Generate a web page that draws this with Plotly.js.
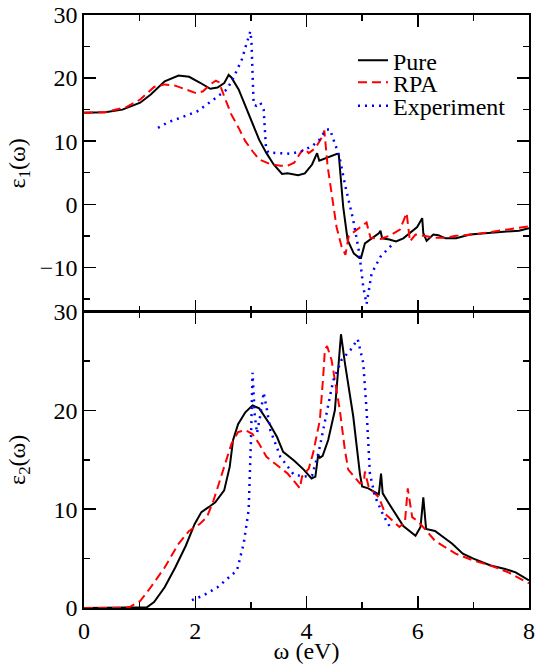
<!DOCTYPE html>
<html>
<head>
<meta charset="utf-8">
<script src="https://cdn.plot.ly/plotly-3.0.1.min.js"></script>
<style>html,body{margin:0;padding:0;background:#fff;}#chart{width:549px;height:664px;}</style>
</head>
<body>
<div id="chart"></div>
<script>
// ---- data: real part eps1 (top panel) ----
var pureE1X = [0,0.38,0.69,1.01,1.20,1.45,1.70,1.89,2.08,2.27,2.40,2.52,2.60,2.65,2.78,2.90,3.03,3.15,3.28,3.41,3.56,3.66,3.85,3.97,4.10,4.16,4.19,4.23,4.35,4.45,4.55,4.58,4.60,4.66,4.74,4.85,4.95,4.98,5.05,5.17,5.30,5.33,5.36,5.49,5.61,5.74,5.86,5.99,6.08,6.10,6.16,6.28,6.37,6.50,6.69,6.94,7.32,7.70,7.82,8.00];
var pureE1Y = [14.5,14.6,15.0,16.1,17.4,19.5,20.4,20.2,19.3,18.3,18.5,19.2,20.5,20.1,18.2,15.6,12.9,10.2,8.1,6.3,4.8,4.9,4.6,4.9,6.3,7.6,8.1,6.9,7.3,7.6,8.0,7.9,6.0,-0.4,-5.7,-7.8,-8.5,-8.5,-6.2,-5.4,-4.6,-4.2,-5.4,-5.6,-5.9,-5.4,-4.6,-3.6,-2.2,-4.6,-5.8,-4.8,-4.9,-5.4,-5.4,-4.8,-4.5,-4.2,-4.2,-3.8];
var rpaE1X = [0,0.38,0.76,1.01,1.26,1.45,1.64,1.83,2.02,2.14,2.27,2.37,2.43,2.52,2.65,2.78,2.90,3.03,3.15,3.34,3.53,3.66,3.78,3.91,3.97,4.04,4.16,4.29,4.32,4.38,4.45,4.54,4.63,4.70,4.76,4.92,5.08,5.15,5.33,5.49,5.68,5.80,5.86,5.96,6.12,6.31,6.50,6.69,7.00,7.32,7.70,8.00];
var rpaE1Y = [14.5,14.6,15.4,16.6,18.6,19.0,18.8,18.2,17.6,17.9,19.0,19.6,19.3,17.1,14.2,12.1,10.0,8.4,7.1,6.4,6.1,6.1,6.6,8.4,8.8,8.1,8.9,10.8,11.7,6.0,1.8,-3.6,-6.7,-8.0,-5.0,-4.0,-2.9,-5.3,-5.5,-5.0,-4.0,-1.4,-5.9,-4.8,-5.0,-5.3,-5.3,-5.0,-4.8,-4.4,-3.9,-3.5];
var expE1X = [1.33,1.51,1.73,2.03,2.33,2.57,2.69,2.84,2.91,2.99,3.01,3.03,3.05,3.10,3.17,3.23,3.27,3.31,3.47,3.72,3.91,4.10,4.23,4.35,4.42,4.51,4.59,4.70,4.84,4.95,5.02,5.08,5.17,5.33,5.53];
var expE1Y = [12.1,13.0,13.7,14.7,16.6,18.2,20.1,23.0,25.1,27.4,25.9,21.5,15.8,15.6,16.1,15.0,9.2,8.2,8.1,8.0,8.4,9.2,10.2,11.8,11.9,9.5,7.6,2.8,-2.5,-7.8,-13.1,-15.8,-11.0,-8.3,-6.5];

// ---- data: imaginary part eps2 (bottom panel) ----
var pureE2X = [0,1.00,1.13,1.26,1.45,1.64,1.83,1.99,2.11,2.24,2.36,2.52,2.62,2.68,2.77,2.90,3.03,3.15,3.34,3.47,3.58,3.78,3.95,4.09,4.16,4.21,4.24,4.29,4.39,4.51,4.57,4.62,4.69,4.84,4.96,5.00,5.11,5.30,5.34,5.37,5.49,5.74,5.96,6.05,6.10,6.15,6.31,6.43,6.62,6.81,7.00,7.31,7.57,7.76,8.00];
var pureE2Y = [0,0,0.07,0.6,2.1,4.1,6.3,8.5,9.7,10.2,10.7,11.9,14.3,17.0,18.6,19.8,20.5,20.2,18.6,17.3,15.8,14.9,14.0,13.1,13.3,15.5,15.2,15.4,17.0,20.0,24.5,27.7,24.8,19.4,13.6,12.3,12.1,11.5,13.6,11.6,10.5,8.3,7.3,8.2,11.2,8.0,7.8,7.3,6.5,5.5,5.0,4.3,3.95,3.6,2.8];
var rpaE2X = [0,0.70,0.82,1.01,1.20,1.45,1.70,1.89,2.08,2.21,2.33,2.52,2.65,2.77,2.90,3.03,3.15,3.28,3.47,3.66,3.81,3.88,3.92,4.04,4.12,4.24,4.30,4.33,4.37,4.45,4.60,4.69,4.75,4.96,5.03,5.05,5.12,5.30,5.42,5.67,5.77,5.82,5.90,6.02,6.31,6.68,7.00,7.31,7.63,8.00];
var rpaE2Y = [0,0,0.1,0.7,2.1,4.1,6.5,7.8,8.5,9.2,10.9,14.3,16.6,17.8,18.0,17.6,16.6,15.3,14.4,13.6,12.6,12.1,13.3,14.1,15.7,19.0,23.4,26.1,26.5,25.1,20.0,16.0,14.0,12.6,12.7,13.8,12.2,11.2,9.5,8.2,8.7,12.1,9.2,8.7,6.8,5.5,4.8,4.3,3.6,2.5];
var expE2X = [1.94,2.14,2.40,2.59,2.75,2.87,2.96,3.00,3.03,3.07,3.11,3.17,3.23,3.29,3.35,3.53,3.77,3.95,4.10,4.22,4.35,4.48,4.63,4.79,4.92,5.02,5.08,5.11,5.14,5.23,5.38,5.50];
var expE2Y = [0.8,1.25,2.1,3.0,3.8,6.5,9.9,16.7,23.8,19.5,17.7,19.5,21.8,20.0,18.0,15.3,13.5,13.3,13.4,15.8,19.3,23.0,25.1,26.1,27.2,24.8,20.0,16.0,13.6,11.3,9.4,8.2];

var seriesNames = ['Pure', 'RPA', 'Experiment'];
var tickVals = [0, 2, 4, 6, 8];

var FONT = 'Liberation Serif';
var FS = 24;
var styles = [
  {color: '#000000', width: 2, dash: 'solid'},
  {color: '#ff0000', width: 2, dash: '9px,5px'},
  {color: '#0000ff', width: 2.5, dash: '2px,5px'}
];
var legendIds = ['legend', 'legend2', 'legend3'];

var topSets = [[pureE1X, pureE1Y], [rpaE1X, rpaE1Y], [expE1X, expE1Y]];
var botSets = [[pureE2X, pureE2Y], [rpaE2X, rpaE2Y], [expE2X, expE2Y]];

var traces = [];
for (var i = 0; i < 3; i++) {
  traces.push({x: topSets[i][0], y: topSets[i][1], xaxis: 'x2', yaxis: 'y2', type: 'scatter', mode: 'lines',
    name: seriesNames[i], legend: legendIds[i], showlegend: true, line: styles[i], hoverinfo: 'skip'});
}
for (var j = 0; j < 3; j++) {
  traces.push({x: botSets[j][0], y: botSets[j][1], xaxis: 'x', yaxis: 'y', type: 'scatter', mode: 'lines',
    name: seriesNames[j], showlegend: false, line: styles[j], hoverinfo: 'skip'});
}

function xAxis(labels, anchor) {
  return {
    range: [0, 8], tickvals: tickVals, ticks: 'inside', ticklen: 12, tickwidth: 1.5, tickcolor: '#000',
    minor: {dtick: 1, tick0: 0, ticks: 'inside', ticklen: 6, tickwidth: 1.5, tickcolor: '#000'},
    showline: true, linewidth: 1.8, linecolor: '#000', mirror: 'ticks', showgrid: false, zeroline: false,
    showticklabels: labels, tickfont: {family: FONT, size: FS, color: '#000'}, anchor: anchor
  };
}
function yAxis(range, domain, anchor) {
  return {
    range: range, domain: domain, dtick: 10, tick0: 0, ticks: 'inside', ticklen: 12, tickwidth: 1.5, tickcolor: '#000',
    minor: {dtick: 5, tick0: 0, ticks: 'inside', ticklen: 6, tickwidth: 1.5, tickcolor: '#000'},
    showline: true, linewidth: 1.8, linecolor: '#000', mirror: 'ticks', showgrid: false, zeroline: false,
    tickfont: {family: FONT, size: FS, color: '#000'}, anchor: anchor
  };
}

var xa = xAxis(true, 'y');
xa.title = {text: 'ω (eV)', font: {family: FONT, size: FS, color: '#000'}, standoff: 3};
var xa2 = xAxis(false, 'y2');
var ya = yAxis([0, 30], [0, 0.5], 'x');
ya.title = {text: 'ε<sub>2</sub>(ω)', font: {family: FONT, size: FS, color: '#000'}};
var ya2 = yAxis([-17, 30], [0.5, 1], 'x2');
ya2.title = {text: 'ε<sub>1</sub>(ω)', font: {family: FONT, size: FS, color: '#000'}};

function leg(y) {
  return {x: 0.6045, xanchor: 'left', y: y, yanchor: 'middle', bgcolor: 'rgba(0,0,0,0)', borderwidth: 0,
    font: {family: FONT, size: FS, color: '#000'}, itemclick: false, itemdoubleclick: false};
}

var layout = {
  width: 549, height: 664,
  margin: {l: 84, r: 20, t: 15, b: 56},
  paper_bgcolor: '#fff', plot_bgcolor: '#fff',
  showlegend: true,
  xaxis: xa, xaxis2: xa2, yaxis: ya, yaxis2: ya2,
  legend: leg(0.9229), legend2: leg(0.8858), legend3: leg(0.8465),
  font: {family: FONT, size: FS, color: '#000'}
};

Plotly.newPlot('chart', traces, layout, {displayModeBar: false, staticPlot: true});
</script>
</body>
</html>
